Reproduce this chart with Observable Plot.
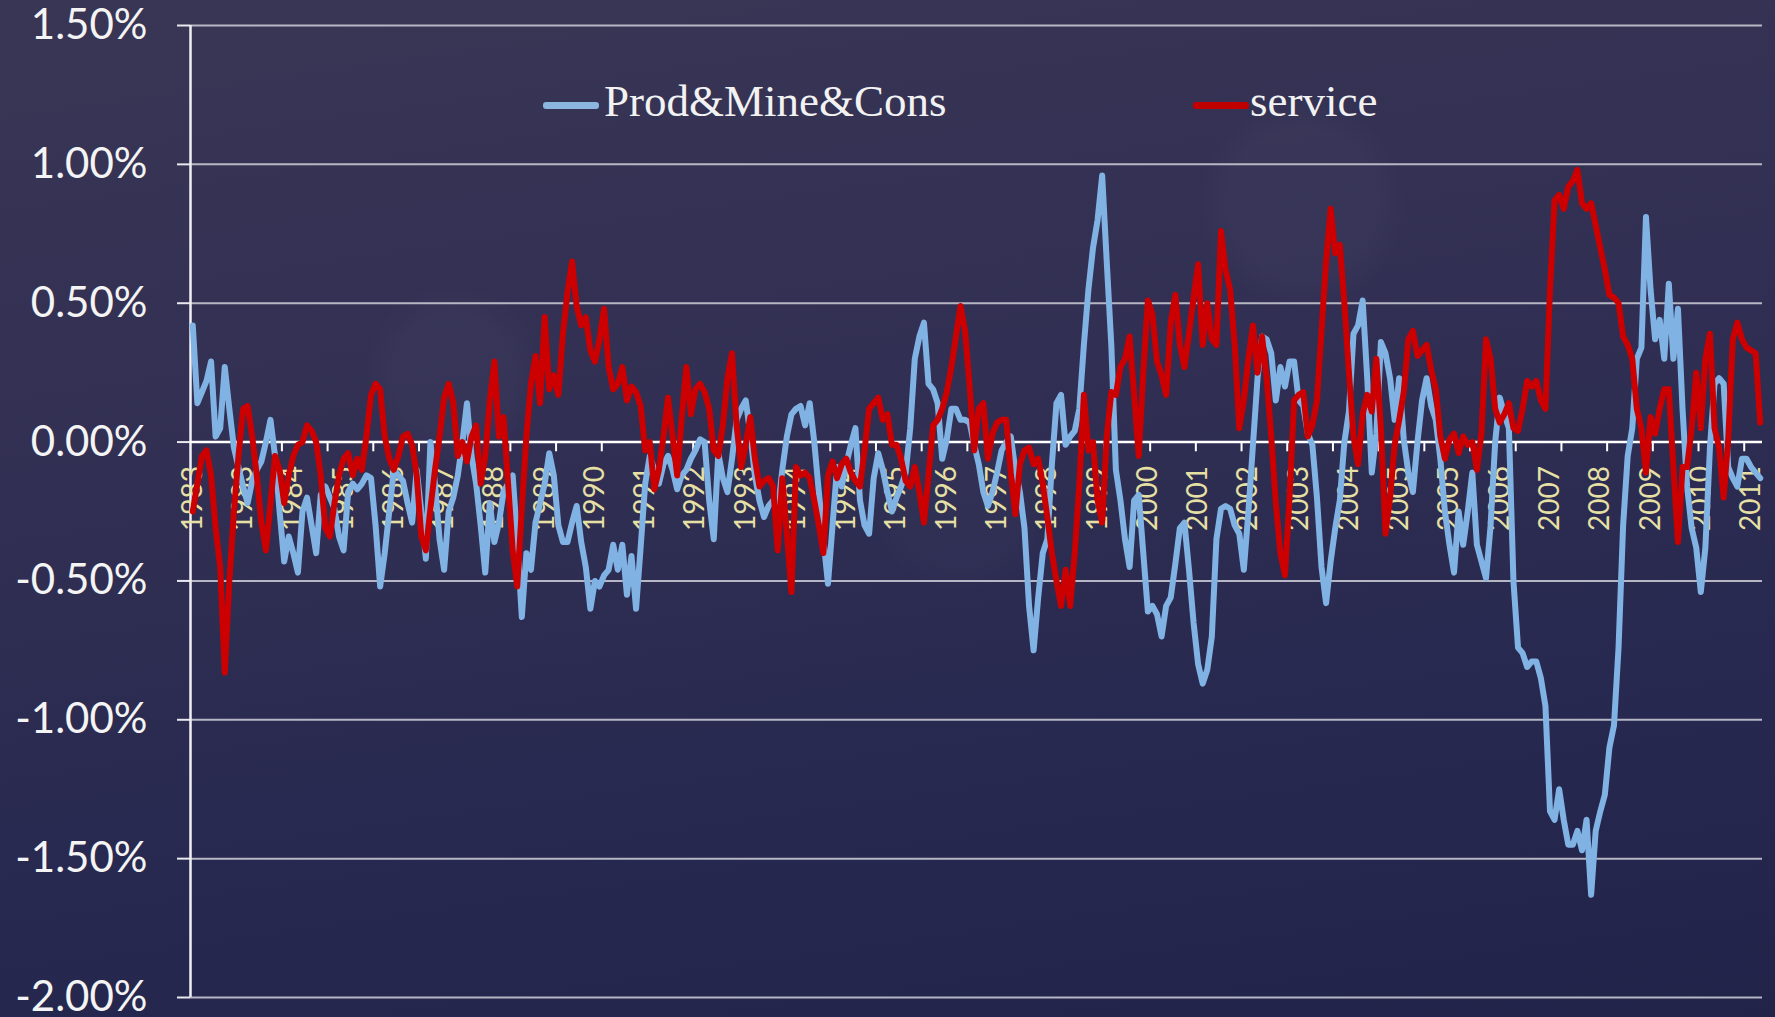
<!DOCTYPE html>
<html>
<head>
<meta charset="utf-8">
<script src="https://cdn.jsdelivr.net/npm/d3@7"></script>
<script src="https://cdn.jsdelivr.net/npm/@observablehq/plot@0.6"></script>
<style>
  html, body { margin: 0; padding: 0; }
  body {
    width: 1775px; height: 1017px; overflow: hidden;
    background:
      radial-gradient(circle at 453px 374px, rgba(255,255,255,0.022) 0 60px, rgba(255,255,255,0) 90px),
      radial-gradient(circle at 1302px 204px, rgba(255,255,255,0.022) 0 75px, rgba(255,255,255,0) 105px),
      radial-gradient(circle at 960px 505px, rgba(255,255,255,0.015) 0 60px, rgba(255,255,255,0) 90px),
      linear-gradient(172deg, #393655 0%, #312f53 40%, #282950 70%, #212349 100%);
  }
  #wrap { position: relative; width: 1775px; height: 1017px; }
  #wrap svg { position: absolute; left: 0; top: 0; }
  .leg { position: absolute; font-family: "Liberation Serif", "DejaVu Serif", serif; font-size: 45px; color: #f2f2f2; line-height: 1; white-space: nowrap; }
  .sw { position: absolute; height: 7px; border-radius: 3px; }
</style>
</head>
<body>
<div id="wrap"></div>
<script>
// ---- data (monthly, Jan 1983 – Aug 2011), values in percent ----
const yearLabels = ["1983","1983","1984","1985","1986","1987","1988","1989","1990","1991","1992","1993",
  "1994","1994","1995","1996","1997","1998","1999","2000","2001","2002","2003","2004",
  "2005","2005","2006","2007","2008","2009","2010","2011"];
const labelEvery = 11;
const tickEvery = 10;
const yTicks = [-2, -1.5, -1, -0.5, 0, 0.5, 1, 1.5];
const seriesNames = ["Prod&Mine&Cons", "service"];
const seriesColors = ["#80b3e4", "#cc0000"];

const prodMineCons = [
  0.42,0.14,0.18,0.22,0.29,0.02,0.05,0.27,0.12,-0.02,-0.09,-0.16,
  -0.22,-0.14,-0.10,-0.07,0.00,0.08,-0.05,-0.25,-0.43,-0.34,-0.40,-0.47,
  -0.25,-0.20,-0.30,-0.40,-0.19,-0.16,-0.20,-0.24,-0.34,-0.39,-0.18,-0.15,
  -0.17,-0.15,-0.12,-0.13,-0.30,-0.52,-0.40,-0.25,-0.10,-0.12,-0.14,-0.22,
  -0.29,-0.10,-0.25,-0.42,0.00,-0.15,-0.35,-0.46,-0.25,-0.20,-0.12,0.00,
  0.14,-0.05,-0.15,-0.30,-0.47,-0.22,-0.36,-0.29,-0.18,-0.15,-0.12,-0.35,
  -0.63,-0.40,-0.46,-0.29,-0.22,-0.15,-0.04,-0.12,-0.30,-0.36,-0.36,-0.29,
  -0.23,-0.36,-0.45,-0.60,-0.50,-0.52,-0.48,-0.46,-0.37,-0.46,-0.37,-0.55,
  -0.41,-0.60,-0.38,-0.15,-0.05,-0.10,-0.15,-0.08,-0.05,-0.10,-0.17,-0.12,
  -0.10,-0.06,-0.03,0.01,0.00,-0.21,-0.35,-0.04,-0.13,-0.18,-0.06,0.08,
  0.12,0.15,0.03,-0.12,-0.21,-0.27,-0.23,-0.21,-0.25,-0.10,0.02,0.10,
  0.12,0.13,0.06,0.14,0.00,-0.18,-0.35,-0.51,-0.30,-0.09,-0.16,-0.08,
  -0.01,0.05,-0.21,-0.30,-0.33,-0.13,-0.04,-0.10,-0.18,-0.25,-0.20,-0.16,
  -0.11,0.05,0.30,0.38,0.43,0.21,0.19,0.14,-0.06,0.01,0.12,0.12,
  0.08,0.08,0.07,-0.01,-0.08,-0.18,-0.23,-0.18,-0.11,-0.03,0.00,0.02,
  -0.10,-0.18,-0.31,-0.59,-0.75,-0.56,-0.40,-0.35,-0.08,0.14,0.17,-0.01,
  0.02,0.04,0.12,0.35,0.55,0.70,0.80,0.96,0.65,0.35,-0.10,-0.21,
  -0.35,-0.45,-0.21,-0.19,-0.40,-0.61,-0.59,-0.62,-0.70,-0.59,-0.56,-0.44,
  -0.31,-0.29,-0.46,-0.65,-0.80,-0.87,-0.82,-0.70,-0.35,-0.24,-0.23,-0.24,
  -0.30,-0.33,-0.46,-0.25,-0.01,0.23,0.38,0.37,0.32,0.15,0.27,0.20,
  0.29,0.29,0.15,0.13,0.03,-0.01,-0.20,-0.45,-0.58,-0.43,-0.31,-0.21,
  0.00,0.11,0.39,0.42,0.51,0.23,-0.11,0.03,0.36,0.32,0.23,0.08,
  0.23,0.01,-0.11,-0.18,0.00,0.15,0.23,0.13,0.08,-0.06,-0.25,-0.37,
  -0.47,-0.25,-0.37,-0.25,-0.11,-0.37,-0.43,-0.49,-0.30,0.00,0.16,0.10,
  0.05,-0.50,-0.74,-0.76,-0.81,-0.79,-0.79,-0.85,-0.95,-1.33,-1.36,-1.25,
  -1.36,-1.45,-1.45,-1.40,-1.47,-1.36,-1.63,-1.40,-1.33,-1.27,-1.10,-1.02,
  -0.74,-0.30,-0.05,0.05,0.30,0.34,0.81,0.55,0.37,0.44,0.30,0.57,
  0.30,0.48,0.12,-0.16,-0.31,-0.38,-0.54,-0.38,-0.02,0.21,0.23,0.21,
  -0.09,-0.13,-0.16,-0.06,-0.06,-0.09,-0.11,-0.13
];

const service = [
  -0.25,-0.15,-0.05,-0.03,-0.12,-0.31,-0.45,-0.83,-0.50,-0.25,-0.05,0.12,
  0.13,0.02,-0.12,-0.29,-0.39,-0.22,-0.05,-0.10,-0.22,-0.12,-0.05,-0.01,
  0.00,0.06,0.04,0.00,-0.12,-0.31,-0.34,-0.22,-0.12,-0.06,-0.04,-0.12,
  -0.06,-0.10,0.02,0.17,0.21,0.19,0.02,-0.06,-0.10,-0.05,0.02,0.03,
  -0.01,-0.12,-0.34,-0.39,-0.24,-0.10,0.02,0.16,0.21,0.14,-0.05,0.00,
  -0.07,0.02,0.06,-0.15,-0.05,0.15,0.29,0.02,0.09,-0.15,-0.39,-0.52,
  -0.24,0.02,0.21,0.31,0.14,0.45,0.19,0.24,0.17,0.39,0.54,0.65,
  0.49,0.42,0.45,0.33,0.29,0.37,0.48,0.27,0.19,0.21,0.27,0.15,
  0.20,0.18,0.13,-0.03,0.00,-0.17,-0.10,0.02,0.16,0.02,-0.12,0.09,
  0.27,0.10,0.19,0.21,0.18,0.12,-0.03,-0.05,0.06,0.23,0.32,0.06,
  -0.09,-0.01,0.09,-0.06,-0.16,-0.14,-0.13,-0.16,-0.39,-0.13,-0.33,-0.54,
  -0.09,-0.12,-0.11,-0.13,-0.21,-0.30,-0.40,-0.12,-0.07,-0.13,-0.08,-0.06,
  -0.11,-0.14,-0.16,-0.03,0.12,0.14,0.16,0.08,0.10,-0.01,-0.01,-0.06,
  -0.14,-0.16,-0.09,-0.18,-0.29,-0.12,0.06,0.08,0.12,0.18,0.27,0.38,
  0.49,0.40,0.20,-0.03,0.12,0.14,-0.06,0.03,0.07,0.08,0.08,-0.11,
  -0.26,-0.08,-0.03,-0.02,-0.08,-0.06,-0.15,-0.27,-0.40,-0.50,-0.59,-0.46,
  -0.59,-0.40,-0.15,0.17,-0.03,0.00,-0.21,-0.29,0.02,0.18,0.17,0.27,
  0.30,0.38,0.17,-0.05,0.25,0.51,0.46,0.29,0.24,0.17,0.43,0.53,
  0.35,0.27,0.39,0.52,0.64,0.35,0.50,0.37,0.35,0.76,0.62,0.55,
  0.35,0.05,0.15,0.30,0.42,0.25,0.38,0.23,0.02,-0.22,-0.40,-0.48,
  -0.20,0.15,0.17,0.18,0.02,0.06,0.15,0.40,0.65,0.84,0.68,0.71,
  0.50,0.25,0.02,-0.08,0.10,0.17,0.11,0.30,0.05,-0.33,-0.20,-0.01,
  0.08,0.18,0.37,0.40,0.31,0.33,0.35,0.26,0.19,0.02,-0.06,0.01,
  0.03,-0.04,0.02,-0.01,0.00,-0.10,0.03,0.37,0.30,0.12,0.07,0.10,
  0.14,0.05,0.04,0.12,0.22,0.20,0.22,0.15,0.12,0.55,0.87,0.89,
  0.84,0.92,0.94,0.98,0.86,0.84,0.86,0.78,0.70,0.62,0.53,0.52,
  0.50,0.38,0.35,0.30,0.12,0.05,-0.11,0.09,0.03,0.12,0.19,0.19,
  -0.09,-0.36,-0.09,-0.09,0.05,0.25,0.05,0.30,0.39,0.05,-0.02,-0.20,
  0.01,0.37,0.43,0.37,0.34,0.33,0.32,0.07
];

// ---- derived tables ----
const nMonths = prodMineCons.length;
const labelData = yearLabels.map((label, k) => ({ pos: k * labelEvery + 0.5, label }));
const tickData = d3.range(tickEvery, nMonths, tickEvery);

const chart = Plot.plot({
  width: 1775,
  height: 1017,
  marginLeft: 190,
  marginRight: 13,
  marginTop: 25,
  marginBottom: 20,
  style: { background: "transparent", fontFamily: "Lato, 'Open Sans', sans-serif", fontSize: "42px", color: "#f2f2f2", overflow: "visible" },
  x: { domain: [0, nMonths], axis: null },
  y: { domain: [-2, 1.5], axis: null },
  marks: [
    Plot.gridY(yTicks, { stroke: "#cfcfd8", strokeOpacity: 0.85, strokeWidth: 2 }),
    Plot.axisY(yTicks, {
      tickSize: 13, tickPadding: 30, stroke: "#e8e8ee", strokeWidth: 2,
      tickFormat: d => d.toFixed(2) + "%", fill: "#f4f4f4", fontSize: 42
    }),
    Plot.ruleX([0], { stroke: "#f0f0f4", strokeWidth: 2.5 }),
    Plot.ruleY([0], { stroke: "#ffffff", strokeWidth: 2.5 }),
    Plot.ruleX(tickData, { x: d => d, y1: 0, y2: -0.035, stroke: "#ffffff", strokeWidth: 2 }),
    Plot.text(labelData, {
      x: "pos", y: () => 0, text: "label", rotate: -90, textAnchor: "end",
      dy: 24, fill: "#e6e0a4", fontSize: 28, fontFamily: "Lato, sans-serif"
    }),
    Plot.line(prodMineCons, { x: (d, i) => i + 0.5, y: d => d, stroke: seriesColors[0], strokeWidth: 6, strokeLinejoin: "round", strokeLinecap: "round" }),
    Plot.line(service, { x: (d, i) => i + 0.5, y: d => d, stroke: seriesColors[1], strokeWidth: 6, strokeLinejoin: "round", strokeLinecap: "round" })
  ]
});

const wrap = document.getElementById("wrap");
wrap.append(chart);

// ---- legend (HTML overlay) ----
const legendItems = [
  { name: seriesNames[0], color: "#8ab6e0", sx: 543, tx: 604 },
  { name: seriesNames[1], color: "#c00000", sx: 1193, tx: 1250 }
];
for (const it of legendItems) {
  const sw = document.createElement("div");
  sw.className = "sw";
  sw.style.left = it.sx + "px";
  sw.style.top = "102px";
  sw.style.width = "56px";
  sw.style.background = it.color;
  wrap.append(sw);
  const t = document.createElement("div");
  t.className = "leg";
  t.style.left = it.tx + "px";
  t.style.top = "79px";
  t.textContent = it.name;
  wrap.append(t);
}
</script>
</body>
</html>
